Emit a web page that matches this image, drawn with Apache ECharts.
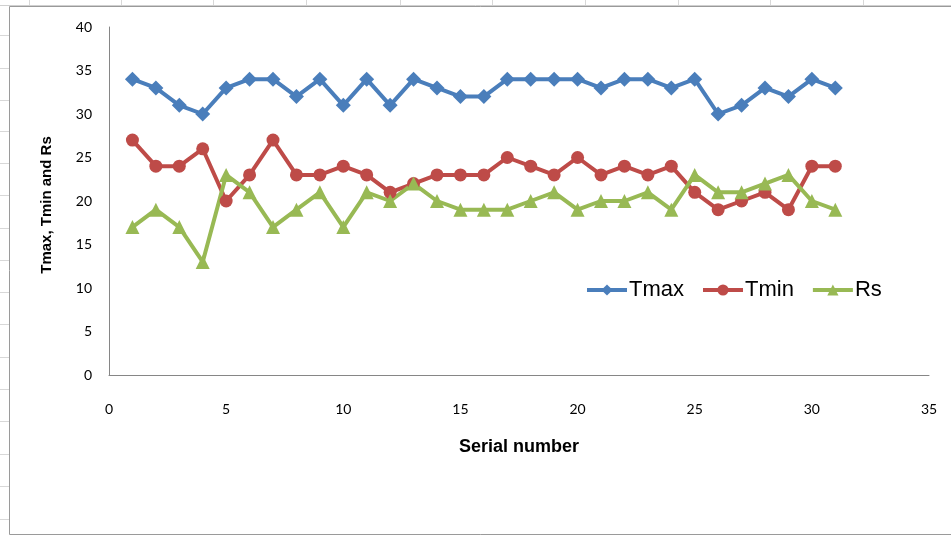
<!DOCTYPE html>
<html>
<head>
<meta charset="utf-8">
<script src="https://cdn.jsdelivr.net/npm/echarts@6/dist/echarts.min.js"></script>
<style>
  html, body { margin: 0; padding: 0; background: #ffffff; }
  #chart { width: 951px; height: 537px; }
</style>
</head>
<body>
<div id="chart"></div>
<script>
// Daily weather series by serial number
const serial = [1,2,3,4,5,6,7,8,9,10,11,12,13,14,15,16,17,18,19,20,21,22,23,24,25,26,27,28,29,30,31];
const tmax = [34,33,31,30,33,34,34,32,34,31,34,31,34,33,32,32,34,34,34,34,33,34,34,33,34,30,31,33,32,34,33];
const tmin = [27,24,24,26,20,23,27,23,23,24,23,21,22,23,23,23,25,24,23,25,23,24,23,24,21,19,20,21,19,24,24];
const rs   = [17,19,17,13,23,21,17,19,21,17,21,20,22,20,19,19,19,20,21,19,20,20,21,19,23,21,21,22,23,20,19];
const seriesNames = ['Tmax', 'Tmin', 'Rs'];

const pairs = arr => serial.map((s, i) => [s, arr[i]]);

// worksheet cell lines around the embedded chart
const sheetLines = [];
[29,121,213,306,400,492,585,678,770,863].forEach(x => {
  sheetLines.push({ type: 'line', shape: { x1: x + 0.5, y1: 0, x2: x + 0.5, y2: 6 }, style: { stroke: '#d8d8d8', lineWidth: 1 }, silent: true });
});
[35,68,100,131,163,195,228,260,292,324,357,389,421,454,486,519].forEach(y => {
  sheetLines.push({ type: 'line', shape: { x1: 0, y1: y + 0.5, x2: 9, y2: y + 0.5 }, style: { stroke: '#d8d8d8', lineWidth: 1 }, silent: true });
});
sheetLines.push({ type: 'line', shape: { x1: 0, y1: 5.5, x2: 951, y2: 5.5 }, style: { stroke: '#d0d0d0', lineWidth: 1 }, silent: true });
sheetLines.push({ type: 'rect', shape: { x: 9.5, y: 6.5, width: 960, height: 528 }, style: { fill: null, stroke: '#9a9a9a', lineWidth: 1 }, silent: true });
sheetLines.push({
  type: 'text', rotation: Math.PI / 2, x: 47, y: 205,
  style: { text: 'Tmax, Tmin and Rs', font: 'bold 15px "Liberation Sans", Arial, sans-serif', fill: '#000', align: 'center', verticalAlign: 'middle' }
});

const chart = echarts.init(document.getElementById('chart'), null, { renderer: 'canvas' });
const axisFont = 'Lato, "Liberation Sans", sans-serif';
const legendFont = '"Liberation Sans", Arial, sans-serif';

chart.setOption({
  animation: false,
  backgroundColor: '#ffffff',
  graphic: sheetLines,
  grid: { left: 109, top: 27, right: 22, bottom: 162, containLabel: false },
  legend: {
    data: seriesNames,
    left: 580, top: 274,
    itemWidth: 40, itemHeight: 14, itemGap: 17,
    lineStyle: { width: 4 },
    textStyle: { fontSize: 22, fontFamily: legendFont, color: '#000', padding: [0, 0, 0, -3] }
  },
  xAxis: {
    type: 'value', min: 0, max: 35, interval: 5,
    name: 'Serial number', nameLocation: 'middle', nameGap: 63,
    nameTextStyle: { fontSize: 18, fontWeight: 'bold', fontFamily: legendFont, color: '#000' },
    axisLine: { lineStyle: { color: '#868686', width: 1 } },
    axisTick: { show: false },
    splitLine: { show: false },
    axisLabel: { fontSize: 14, margin: 27, color: '#000', fontFamily: axisFont }
  },
  yAxis: {
    type: 'value', min: 0, max: 40, interval: 5,
    axisLine: { show: true, lineStyle: { color: '#868686', width: 1 } },
    axisTick: { show: false },
    splitLine: { show: false },
    axisLabel: { fontSize: 14, margin: 17, color: '#000', fontFamily: axisFont }
  },
  series: [
    { name: 'Tmax', type: 'line', data: pairs(tmax), symbol: 'diamond', symbolSize: 15,
      itemStyle: { color: '#4A7EBB' }, lineStyle: { width: 4, color: '#4A7EBB' } },
    { name: 'Tmin', type: 'line', data: pairs(tmin), symbol: 'circle', symbolSize: 13,
      itemStyle: { color: '#BE4B48' }, lineStyle: { width: 4, color: '#BE4B48' } },
    { name: 'Rs', type: 'line', data: pairs(rs), symbol: 'triangle', symbolSize: 14,
      itemStyle: { color: '#98B954' }, lineStyle: { width: 4, color: '#98B954' } }
  ]
});
</script>
</body>
</html>
